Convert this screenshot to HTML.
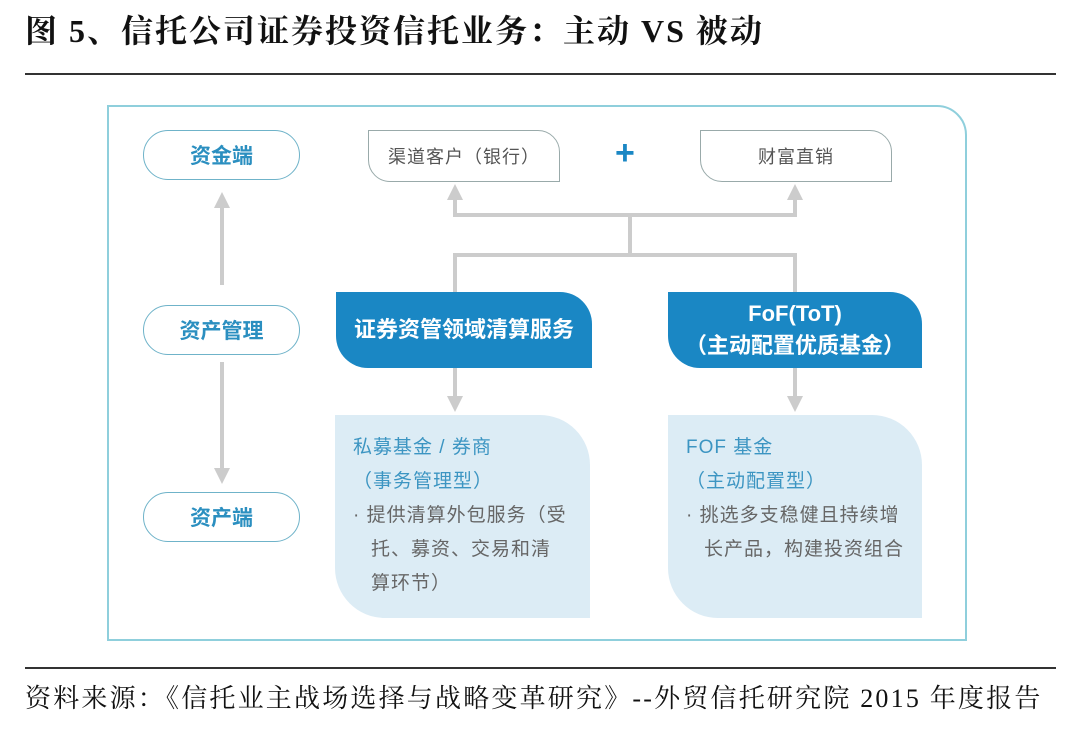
<!DOCTYPE html>
<html><head><meta charset="utf-8"><style>
body{margin:0;width:1080px;height:738px;background:#fff;position:relative;overflow:hidden;font-family:"Liberation Sans","Noto Sans CJK SC",sans-serif}
.a{position:absolute}
.t{left:25px;top:6px;font:bold 32px "Liberation Serif","Noto Serif CJK SC","Noto Sans CJK SC",serif;color:#111;letter-spacing:2px;white-space:nowrap}
.pill{position:absolute;left:143px;width:155px;height:48px;border:1.5px solid #6fb3c9;border-radius:25px;color:#2b8fc0;font-weight:bold;font-size:21px;display:flex;align-items:center;justify-content:center}
.leaf{position:absolute;border:1.5px solid #9aa;border-radius:0 22px 0 22px;color:#555;font-size:18px;display:flex;align-items:center;justify-content:center;letter-spacing:1px}
.blue{position:absolute;background:#1a87c4;color:#fff;font-weight:bold;font-size:22px;border-radius:0 32px 0 32px;display:flex;flex-direction:column;align-items:center;justify-content:center;line-height:32px}
.lt{position:absolute;background:#dcecf5;border-radius:0 50px 0 50px;color:#666;font-size:19px;line-height:34px;padding:16px 0 0 18px;box-sizing:border-box;letter-spacing:1px;white-space:nowrap}
.lt .h{color:#3c95c2}
</style></head><body>
<div class="a t">图 5、信托公司证券投资信托业务：主动 VS 被动</div>
<div class="a" style="left:25px;top:73px;width:1031px;height:2px;background:#333"></div>
<div class="a" style="left:107px;top:105px;width:860px;height:536px;border:2px solid #8fcfdc;border-radius:0 30px 0 0;box-sizing:border-box"></div>
<svg class="a" style="left:0;top:0" width="1080" height="738">
<g stroke="#ccc" stroke-width="4" fill="none">
<line x1="222" y1="200" x2="222" y2="285"/>
<line x1="222" y1="362" x2="222" y2="475"/>
<polyline points="455,198 455,215 795,215 795,198"/>
<line x1="630" y1="215" x2="630" y2="255"/>
<polyline points="455,292 455,255 795,255 795,292"/>
<line x1="455" y1="368" x2="455" y2="400"/>
<line x1="795" y1="368" x2="795" y2="400"/>
</g>
<g fill="#ccc">
<polygon points="222,192 214,208 230,208"/>
<polygon points="222,484 214,468 230,468"/>
<polygon points="455,184 447,200 463,200"/>
<polygon points="795,184 787,200 803,200"/>
<polygon points="455,412 447,396 463,396"/>
<polygon points="795,412 787,396 803,396"/>
</g>
</svg>
<div class="pill" style="top:130px">资金端</div>
<div class="pill" style="top:305px">资产管理</div>
<div class="pill" style="top:492px">资产端</div>
<div class="leaf" style="left:368px;top:130px;width:190px;height:50px">渠道客户（银行）</div>
<div class="leaf" style="left:700px;top:130px;width:190px;height:50px">财富直销</div>
<div class="a" style="left:615px;top:134px;color:#1a87c4;font-size:34px;font-weight:bold">+</div>
<div class="blue" style="left:336px;top:292px;width:256px;height:76px">证券资管领域清算服务</div>
<div class="blue" style="left:668px;top:292px;width:254px;height:76px"><div>FoF(ToT)</div><div>（主动配置优质基金）</div></div>
<div class="lt" style="left:335px;top:415px;width:255px;height:203px"><div class="h">私募基金 / 券商</div><div class="h">（事务管理型）</div><div>· 提供清算外包服务（受</div><div style="padding-left:18px">托、募资、交易和清</div><div style="padding-left:18px">算环节）</div></div>
<div class="lt" style="left:668px;top:415px;width:254px;height:203px"><div class="h">FOF 基金</div><div class="h">（主动配置型）</div><div>· 挑选多支稳健且持续增</div><div style="padding-left:18px">长产品，构建投资组合</div></div>
<div class="a" style="left:25px;top:667px;width:1031px;height:2px;background:#333"></div>
<div class="a" style="left:25px;top:678px;font:26px 'Liberation Serif','Noto Serif CJK SC',serif;color:#111;letter-spacing:2.2px;white-space:nowrap">资料来源：《信托业主战场选择与战略变革研究》--外贸信托研究院 2015 年度报告</div>
</body></html>
